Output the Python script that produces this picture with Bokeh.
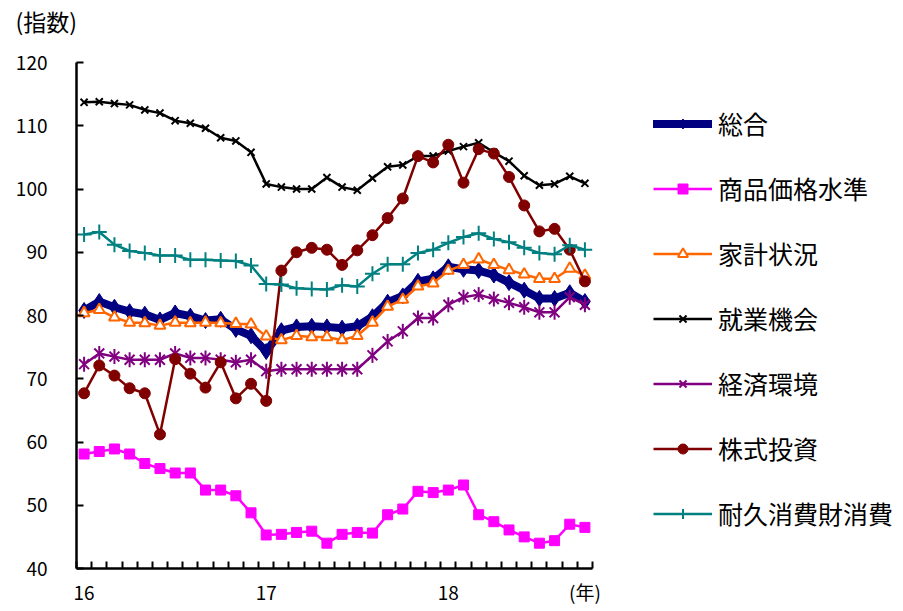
import numpy as np
from bokeh.plotting import figure
from bokeh.layouts import column
from bokeh.models import Range1d, FixedTicker, Legend, LegendItem
from bokeh.embed import file_html
from bokeh.resources import INLINE

# Monthly, Jan 2016 .. Oct 2018 (34 months)
months = list(range(34))
year_ticks = [0, 12, 24]
year_labels = ["16", "17", "18"]
unit_label = "(年)"
index_label = "(指数)"
y_ticks = [40, 50, 60, 70, 80, 90, 100, 110, 120]

sogo = [80.8, 82.2, 81.3, 80.6, 80.2, 79.3, 80.4, 79.9, 79.2, 79.4, 77.8, 76.8,
        74.3, 77.6, 78.2, 78.3, 78.2, 78.0, 78.3, 79.8, 82.1, 83.1, 85.4, 85.8,
        87.7, 87.3, 87.1, 86.4, 85.2, 84.0, 82.7, 82.7, 83.6, 82.2]
shohin = [58.1, 58.5, 58.9, 58.1, 56.6, 55.8, 55.1, 55.1, 52.4, 52.4, 51.5, 48.8,
          45.3, 45.4, 45.7, 45.9, 44.0, 45.4, 45.7, 45.6, 48.5, 49.4, 52.2, 52.0,
          52.4, 53.2, 48.5, 47.4, 46.1, 45.0, 44.0, 44.4, 47.0, 46.5]
kakei = [80.4, 80.9, 79.7, 78.9, 78.8, 78.4, 78.9, 78.8, 78.9, 78.8, 78.7, 78.6,
         76.7, 76.1, 76.8, 76.6, 76.6, 76.1, 76.8, 78.9, 81.4, 82.5, 84.6, 85.1,
         87.1, 88.0, 88.9, 88.0, 87.2, 86.5, 85.8, 85.8, 87.4, 86.3]
shugyo = [113.7, 113.8, 113.5, 113.3, 112.5, 112.0, 110.8, 110.4, 109.6, 108.1, 107.6, 105.8,
          100.8, 100.3, 100.0, 100.0, 101.8, 100.3, 99.8, 101.7, 103.5, 103.8, 105.2, 105.2,
          106.0, 106.7, 107.3, 105.8, 104.4, 102.1, 100.6, 100.8, 102.0, 100.9]
keizai = [72.3, 74.0, 73.5, 73.0, 73.0, 73.0, 74.0, 73.3, 73.3, 73.0, 72.6, 73.0,
          71.2, 71.5, 71.5, 71.5, 71.5, 71.5, 71.5, 73.7, 75.9, 77.5, 79.6, 79.6,
          81.7, 82.9, 83.3, 82.6, 82.0, 81.3, 80.5, 80.5, 82.9, 81.7]
kabu = [67.7, 72.1, 70.5, 68.5, 67.7, 61.2, 73.1, 70.8, 68.6, 72.6, 66.9, 69.2,
        66.5, 87.1, 90.0, 90.7, 90.4, 88.0, 90.3, 92.7, 95.4, 98.5, 105.2, 104.2,
        107.0, 101.0, 106.3, 105.6, 101.9, 97.4, 93.3, 93.7, 90.4, 85.4]
taikyu = [92.8, 93.2, 91.2, 90.2, 89.9, 89.5, 89.5, 88.8, 88.8, 88.7, 88.6, 87.9,
          85.0, 84.9, 84.3, 84.2, 84.1, 84.8, 84.6, 86.6, 88.1, 88.1, 89.9, 90.4,
          91.5, 92.4, 93.0, 92.1, 91.6, 90.7, 89.9, 89.7, 91.1, 90.4]

names = ["総合", "商品価格水準", "家計状況", "就業機会", "経済環境", "株式投資", "耐久消費財消費"]

FONT = "Noto Sans CJK JP"

# --- header strip holding the y-unit label (as its title) ---
top = figure(width=895, height=44, output_backend="svg", toolbar_location=None,
             x_range=Range1d(0, 1), y_range=Range1d(0, 1),
             x_axis_location=None, y_axis_location=None,
             min_border=0, min_border_left=0, min_border_right=0,
             min_border_top=0, min_border_bottom=0)
top.outline_line_color = None
top.grid.visible = False
top.title.text = index_label
top.title.align = "left"
top.title.offset = -61
top.title.standoff = 2
top.title.text_font = FONT
top.title.text_font_size = "23px"
top.title.text_font_style = "normal"
top.title.text_color = "black"

# --- main chart ---
p = figure(frame_width=516, frame_height=506, output_backend="svg", toolbar_location=None,
           x_range=Range1d(-0.5, 33.5), y_range=Range1d(40, 120),
           min_border_left=76, min_border_right=0, min_border_top=18, min_border_bottom=40)
p.outline_line_color = None
p.xgrid.visible = False
p.ygrid.visible = False
p.background_fill_color = "white"
p.border_fill_color = "white"
p.title.text = ""
p.title.standoff = 0
p.title.text_font_size = "1px"

# y axis
ya = p.yaxis[0]
ya.ticker = FixedTicker(ticks=y_ticks)
ya.axis_line_width = 2.5
ya.axis_line_color = "black"
ya.major_tick_in = 7
ya.major_tick_out = 0
ya.major_tick_line_width = 2
ya.minor_tick_line_color = None
ya.major_label_standoff = 29
ya.major_label_text_font = FONT
ya.major_label_text_font_size = "19px"
ya.major_label_text_color = "black"

# x axis
xa = p.xaxis[0]
xa.ticker = FixedTicker(ticks=year_ticks + [33], minor_ticks=[k - 0.5 for k in range(35)])
ov = {t: l for t, l in zip(year_ticks, year_labels)}
ov[33] = unit_label
xa.major_label_overrides = ov
xa.axis_line_width = 2.5
xa.axis_line_color = "black"
xa.major_tick_line_color = None
xa.minor_tick_in = 7
xa.minor_tick_out = 0
xa.minor_tick_line_width = 2
xa.minor_tick_line_color = "black"
xa.major_label_standoff = 3
xa.major_label_text_font = FONT
xa.major_label_text_font_size = "19px"
xa.major_label_text_color = "black"

items = []

# 総合
c = "#000080"
l1 = p.line(months, sogo, line_color=c, line_width=8, line_join="round", line_cap="round")
m1 = p.scatter(months, sogo, marker="diamond", size=16, fill_color=c, line_color=c)
items.append(LegendItem(label=names[0], renderers=[l1, m1]))

# 商品価格水準
c = "#FF00FF"
l = p.line(months, shohin, line_color=c, line_width=2.5)
m = p.scatter(months, shohin, marker="square", size=10, fill_color=c, line_color=c)
items.append(LegendItem(label=names[1], renderers=[l, m]))

# 家計状況
c = "#FF6600"
l = p.line(months, kakei, line_color=c, line_width=2.5)
m = p.scatter(months, kakei, marker="triangle", size=11, fill_color="white", line_color=c, line_width=2)
items.append(LegendItem(label=names[2], renderers=[l, m]))

# 就業機会
c = "black"
l = p.line(months, shugyo, line_color=c, line_width=2.5)
m = p.scatter(months, shugyo, marker="x", size=10, line_color=c, line_width=2)
items.append(LegendItem(label=names[3], renderers=[l, m]))

# 経済環境
c = "#800080"
l = p.line(months, keizai, line_color=c, line_width=2.5)
m = p.scatter(months, keizai, marker="x", size=14, line_color=c, line_width=2)
m2 = p.scatter(months, keizai, marker="dash", size=15, angle=np.pi / 2, line_color=c, line_width=2)
items.append(LegendItem(label=names[4], renderers=[l, m, m2]))

# 株式投資
c = "#800000"
l = p.line(months, kabu, line_color=c, line_width=2.5)
m = p.scatter(months, kabu, marker="circle", size=11, fill_color=c, line_color=c)
items.append(LegendItem(label=names[5], renderers=[l, m]))

# 耐久消費財消費
c = "#008080"
l = p.line(months, taikyu, line_color=c, line_width=2.5)
m = p.scatter(months, taikyu, marker="cross", size=15, line_color=c, line_width=2)
items.append(LegendItem(label=names[6], renderers=[l, m]))

legend = Legend(items=items, location=(61, 37), orientation="vertical",
                glyph_width=59, glyph_height=25, label_height=25, label_standoff=6,
                spacing=29, padding=0, margin=0,
                label_text_font=FONT, label_text_font_size="25px", label_text_color="black",
                border_line_color=None, background_fill_alpha=0)
p.add_layout(legend, "right")

page = column(top, p, spacing=0)
open("out.html", "w").write(file_html(page, INLINE))
